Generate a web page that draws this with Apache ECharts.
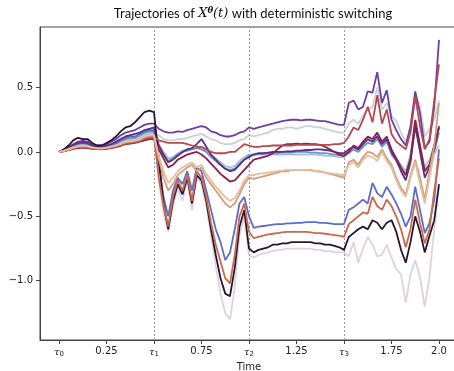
<!DOCTYPE html>
<html>
<head>
<meta charset="utf-8">
<script src="https://cdn.jsdelivr.net/npm/echarts@6/dist/echarts.min.js"></script>
<style>
  html, body { margin: 0; padding: 0; background: #fff; }
  #chart { width: 454px; height: 371px; }
</style>
</head>
<body>
<div id="chart"></div>
<script>
// Trajectories sampled every 0.025 time units, t = 0 .. 2.0 (81 points each)
var step = 0.025;
var switchTimes = [0.5, 1.0, 1.5];
var xTicks = [0, 0.25, 0.5, 0.75, 1.0, 1.25, 1.5, 1.75, 2.0];
var xTickNames = { "0": "τ0", "0.5": "τ1", "1": "τ2", "1.5": "τ3" };
var yTicks = [-1.0, -0.5, 0.0, 0.5];

var darkPath = [0, .02, .05, .09, .11, .1, .1, .07, .05, .05, .07, .09, .12, .16, .19, .2, .23, .27, .31, .32, .31,
  -.05, -.4, -.6, -.38, -.25, -.33, -.2, -.4, -.18, -.22, -.38, -.6, -.8, -.98, -1.1, -1.12, -.9, -.58, -.45, -.75,
  -.78, -.76, -.75, -.74, -.72, -.72, -.71, -.71, -.7, -.7, -.7, -.7, -.7, -.71, -.71, -.72, -.72, -.73, -.74, -.76,
  -.66, -.63, -.6, -.58, -.6, -.53, -.55, -.6, -.55, -.53, -.62, -.76, -.86, -.7, -.5, -.62, -.78, -.65, -.53, -.25];
var purplePath = [0, .015, .04, .06, .08, .085, .08, .06, .05, .05, .06, .08, .1, .13, .15, .16, .17, .19, .21, .22, .22,
  .18, .16, .15, .15, .16, .155, .17, .18, .19, .2, .19, .16, .15, .13, .12, .12, .13, .15, .16, .19,
  .18, .19, .2, .21, .22, .23, .24, .245, .25, .25, .245, .25, .25, .245, .24, .24, .23, .22, .21, .21,
  .38, .4, .33, .35, .47, .46, .62, .38, .48, .25, .17, .1, .05, .2, .47, .3, .03, .08, .35, .87];
var purple2Path = [0, .01, .035, .055, .07, .075, .07, .05, .04, .04, .05, .06, .08, .1, .12, .13, .14, .15, .17, .18, .19,
  .05, -.02, -.08, -.06, -.03, .0, .02, .03, .06, .1, .04, -.02, -.06, -.1, -.13, -.15, -.14, -.1, -.06, -.04,
  -.02, -.01, -.01, -.005, 0, 0, 0, .005, .005, .01, .01, .015, .015, .02, .02, .015, .01, 0, -.01, -.01,
  .02, .04, .02, .06, .1, .08, .12, .06, .1, 0, -.06, -.15, -.22, -.08, .2, 0, -.2, -.12, .02, .2];
var bluePath = [0, .01, .03, .05, .065, .07, .065, .045, .04, .035, .045, .055, .07, .09, .11, .12, .12, .14, .16, .17, .17,
  -.1, -.35, -.5, -.3, -.2, -.25, -.15, -.3, -.12, -.15, -.3, -.45, -.6, -.7, -.84, -.78, -.6, -.4, -.35, -.5,
  -.59, -.58, -.575, -.57, -.565, -.56, -.56, -.555, -.555, -.55, -.55, -.545, -.545, -.545, -.55, -.55, -.555, -.56, -.56, -.56,
  -.45, -.43, -.4, -.37, -.4, -.24, -.32, -.35, -.27, -.33, -.4, -.48, -.58, -.5, -.27, -.45, -.63, -.55, -.37, .02];
var steelPath = [0, .01, .03, .05, .06, .065, .06, .04, .035, .03, .04, .05, .065, .085, .1, .11, .11, .13, .15, .16, .16,
  .04, -.02, -.07, -.05, -.02, 0, .01, .02, .03, .02, 0, -.04, -.07, -.1, -.13, -.14, -.13, -.09, -.06, -.03,
  -.02, -.015, -.015, -.01, -.01, -.01, -.005, -.005, -.005, 0, 0, 0, -.005, -.005, -.01, -.01, -.015, -.02, -.025, -.03,
  -.01, .02, 0, .04, .07, .06, .1, .04, .08, -.02, -.07, -.13, -.18, -.05, .22, .02, -.15, -.1, 0, .15];
var lightSteelPath = [0, .01, .028, .045, .055, .06, .055, .04, .035, .03, .04, .05, .06, .08, .095, .1, .105, .12, .14, .15, .15,
  .06, 0, -.05, -.04, -.01, .01, .02, .03, .04, .03, .01, -.02, -.05, -.08, -.11, -.12, -.11, -.07, -.04, -.02,
  -.02, -.02, -.02, -.02, -.02, -.02, -.02, -.02, -.02, -.02, -.02, -.02, -.02, -.02, -.025, -.03, -.03, -.035, -.04, -.04,
  0, .03, .01, .06, .09, .08, .14, .07, .1, 0, -.05, -.1, -.15, -.02, .24, .05, -.12, -.06, .05, .18];
var grayPath = [0, .01, .025, .04, .05, .055, .05, .04, .03, .03, .035, .045, .055, .075, .09, .095, .1, .11, .13, .14, .14,
  .13, .1, .09, .09, .1, .1, .11, .12, .13, .14, .12, .1, .09, .07, .06, .06, .07, .09, .1, .13,
  .12, .13, .14, .15, .17, .18, .18, .19, .19, .18, .19, .2, .2, .19, .19, .18, .17, .16, .15, .15,
  .22, .25, .22, .28, .33, .35, .5, .33, .38, .28, .24, .15, .08, .15, .45, .35, .12, .18, .25, .4];
var lavenderPath = [0, .01, .025, .04, .05, .055, .05, .035, .03, .028, .035, .045, .055, .07, .085, .09, .095, .105, .125, .135, .135,
  -.22, -.48, -.62, -.42, -.28, -.38, -.22, -.45, -.2, -.25, -.42, -.65, -.88, -1.1, -1.25, -1.3, -1.05, -.65, -.5, -.8,
  -.82, -.8, -.79, -.78, -.77, -.76, -.76, -.75, -.75, -.75, -.75, -.75, -.75, -.76, -.76, -.77, -.77, -.78, -.78, -.78,
  -.81, -.7, -.86, -.75, -.66, -.72, -.81, -.8, -.72, -.82, -.91, -.95, -1.17, -.95, -.84, -.97, -1.2, -.97, -.6, -.27];
var lightTanPath = [0, .008, .022, .035, .045, .05, .045, .035, .03, .028, .033, .042, .05, .065, .08, .085, .09, .1, .12, .13, .13,
  -.03, -.15, -.24, -.2, -.15, -.12, -.1, -.08, -.12, -.1, -.17, -.22, -.27, -.31, -.35, -.38, -.36, -.3, -.22, -.18,
  -.18, -.17, -.165, -.16, -.155, -.15, -.145, -.14, -.14, -.14, -.14, -.14, -.145, -.15, -.155, -.16, -.165, -.17, -.175, -.18,
  -.1, -.08, -.12, -.06, -.03, -.04, -.07, 0, -.07, -.12, -.22, -.3, -.35, -.2, -.08, -.25, -.4, -.2, -.02, .05];
var tanPath = [0, .008, .02, .033, .042, .046, .042, .033, .028, .026, .031, .04, .048, .06, .075, .08, .085, .095, .115, .125, .125,
  -.05, -.2, -.3, -.25, -.18, -.15, -.12, -.1, -.15, -.12, -.2, -.25, -.3, -.35, -.4, -.43, -.4, -.33, -.25, -.2,
  -.21, -.2, -.19, -.18, -.17, -.16, -.15, -.15, -.14, -.14, -.14, -.14, -.14, -.15, -.15, -.16, -.17, -.18, -.19, -.2,
  -.08, -.06, -.1, -.04, 0, -.01, -.04, .02, -.05, -.1, -.2, -.28, -.33, -.18, -.06, -.2, -.37, -.15, .05, .38];
var orangePath = [0, .007, .018, .03, .04, .043, .04, .03, .026, .025, .03, .037, .045, .057, .07, .075, .08, .09, .11, .12, .12,
  -.2, -.42, -.58, -.35, -.22, -.3, -.18, -.38, -.15, -.2, -.35, -.55, -.72, -.85, -.98, -1.02, -.8, -.5, -.4, -.62,
  -.67, -.66, -.65, -.64, -.635, -.63, -.625, -.62, -.62, -.62, -.62, -.62, -.625, -.63, -.63, -.635, -.64, -.645, -.65, -.66,
  -.56, -.53, -.5, -.47, -.48, -.35, -.42, -.45, -.37, -.42, -.5, -.6, -.74, -.6, -.37, -.55, -.71, -.6, -.3, -.05];
var brickPath = [0, .006, .016, .027, .035, .038, .035, .027, .024, .023, .027, .034, .042, .052, .065, .07, .075, .085, .1, .11, .11,
  .09, .08, .07, .07, .07, .07, .06, .05, .04, .04, .02, 0, -.01, -.01, -.01, 0, 0, .03, .06, .05,
  .04, .04, .045, .045, .05, .05, .05, .05, .05, .055, .055, .055, .055, .055, .055, .055, .055, .06, .06, .07,
  .12, .19, .17, .25, .35, .23, .44, .22, .33, .14, .08, .05, .02, .15, .43, .2, .02, .1, .4, .68];
var crimsonPath = [0, .005, .014, .024, .03, .033, .03, .024, .022, .021, .024, .03, .038, .048, .06, .065, .07, .08, .09, .1, .1,
  .02, -.05, -.12, -.1, -.06, -.04, -.02, -.01, 0, -.02, -.05, -.09, -.13, -.17, -.2, -.23, -.22, -.18, -.14, -.1,
  -.06, -.05, -.04, -.03, -.01, .02, .05, .06, .06, .065, .06, .065, .06, .06, .055, .04, .02, 0, -.02, -.03,
  0, .05, .03, .08, .12, .1, .15, .08, .12, .02, -.05, -.12, -.18, -.05, .25, .05, -.15, -.1, .05, .19];

var trajectories = [
  { name: "lavender", color: "#ddd3df", values: lavenderPath },
  { name: "gray", color: "#c6d2d8", values: grayPath },
  { name: "lightSteel", color: "#a7c3d3", values: lightSteelPath },
  { name: "steel", color: "#6b95c6", values: steelPath },
  { name: "blue", color: "#5e6ccb", values: bluePath },
  { name: "purple", color: "#6b3fa6", values: purplePath },
  { name: "purple2", color: "#5c2f86", values: purple2Path },
  { name: "dark", color: "#2b1530", values: darkPath },
  { name: "crimson", color: "#8a1f4c", values: crimsonPath },
  { name: "brick", color: "#b44a4e", values: brickPath },
  { name: "orange", color: "#c96a4b", values: orangePath },
  { name: "tan", color: "#d69d78", values: tanPath },
  { name: "lightTan", color: "#e2bfa3", values: lightTanPath }
];

(function () {
  var el = document.getElementById("chart");
  var chart = echarts.init(el, null, { renderer: "canvas" });

  var series = trajectories.map(function (tr, k) {
    var pts = tr.values.map(function (v, i) { return [i * step, v]; });
    var s = {
      name: tr.name,
      type: "line",
      data: pts,
      showSymbol: false,
      symbol: "none",
      lineStyle: { color: tr.color, width: 1.8 },
      itemStyle: { color: tr.color },
      silent: true,
      z: 2 + k
    };
    if (k === 0) {
      s.markLine = {
        silent: true,
        symbol: "none",
        label: { show: false },
        lineStyle: { color: "#9a9a9a", type: [2, 2], width: 1 },
        data: switchTimes.map(function (t) { return { xAxis: t }; })
      };
    }
    return s;
  });

  var labelFont = "DejaVu Sans";

  chart.setOption({
    animation: false,
    backgroundColor: "#fff",
    title: {
      text: "Trajectories of {m|X}{sup|θ}{m|(t)} with deterministic switching",
      left: 248,
      top: 1,
      textAlign: "center",
      textStyle: {
        fontFamily: "Lato",
        fontSize: 13,
        fontWeight: "normal",
        color: "#111",
        rich: {
          m: { fontFamily: "DejaVu Serif", fontStyle: "italic", fontSize: 13, color: "#111" },
          sup: { fontFamily: "DejaVu Serif", fontStyle: "italic", fontWeight: "bold", fontSize: 8.5, verticalAlign: "top", padding: [0, 0, 6, 0], color: "#111" }
        }
      }
    },
    grid: {
      left: 40, right: -4, top: 27, bottom: 31,
      outerBoundsMode: "none",
      containLabel: false,
      show: true, borderColor: "#444", borderWidth: 1
    },
    xAxis: {
      type: "value",
      min: -0.1,
      max: 2.1,
      name: "Time",
      nameLocation: "middle",
      nameGap: 22,
      nameTextStyle: { fontFamily: labelFont, fontSize: 10, color: "#222" },
      axisLine: { show: true, onZero: false, lineStyle: { color: "#444", width: 1 } },
      axisTick: { show: true, length: 4, customValues: xTicks, lineStyle: { color: "#444" } },
      splitLine: { show: false },
      axisLabel: {
        customValues: xTicks,
        margin: 6,
        fontFamily: labelFont,
        fontSize: 10,
        color: "#222",
        formatter: function (v) {
          var key = String(+v.toFixed(2));
          if (xTickNames[key]) {
            return "{g|τ}{sub|" + xTickNames[key].slice(1) + "}";
          }
          return v === 2 ? "2.0" : String(v);
        },
        rich: {
          g: { fontFamily: "DejaVu Serif", fontStyle: "italic", fontSize: 10, color: "#222" },
          sub: { fontFamily: labelFont, fontSize: 7, verticalAlign: "bottom", padding: [5, 0, 0, 0], color: "#222" }
        }
      }
    },
    yAxis: {
      type: "value",
      min: -1.46,
      max: 0.97,
      axisLine: { show: true, onZero: false, lineStyle: { color: "#444", width: 1 } },
      axisTick: { show: true, length: 4, customValues: yTicks, lineStyle: { color: "#444" } },
      splitLine: { show: false },
      axisLabel: {
        customValues: yTicks,
        margin: 7,
        fontFamily: labelFont,
        fontSize: 10,
        color: "#222",
        formatter: function (v) {
          return (v < 0 ? "\u2212" : "") + Math.abs(v).toFixed(1);
        }
      }
    },
    series: series
  });
})();
</script>
</body>
</html>
